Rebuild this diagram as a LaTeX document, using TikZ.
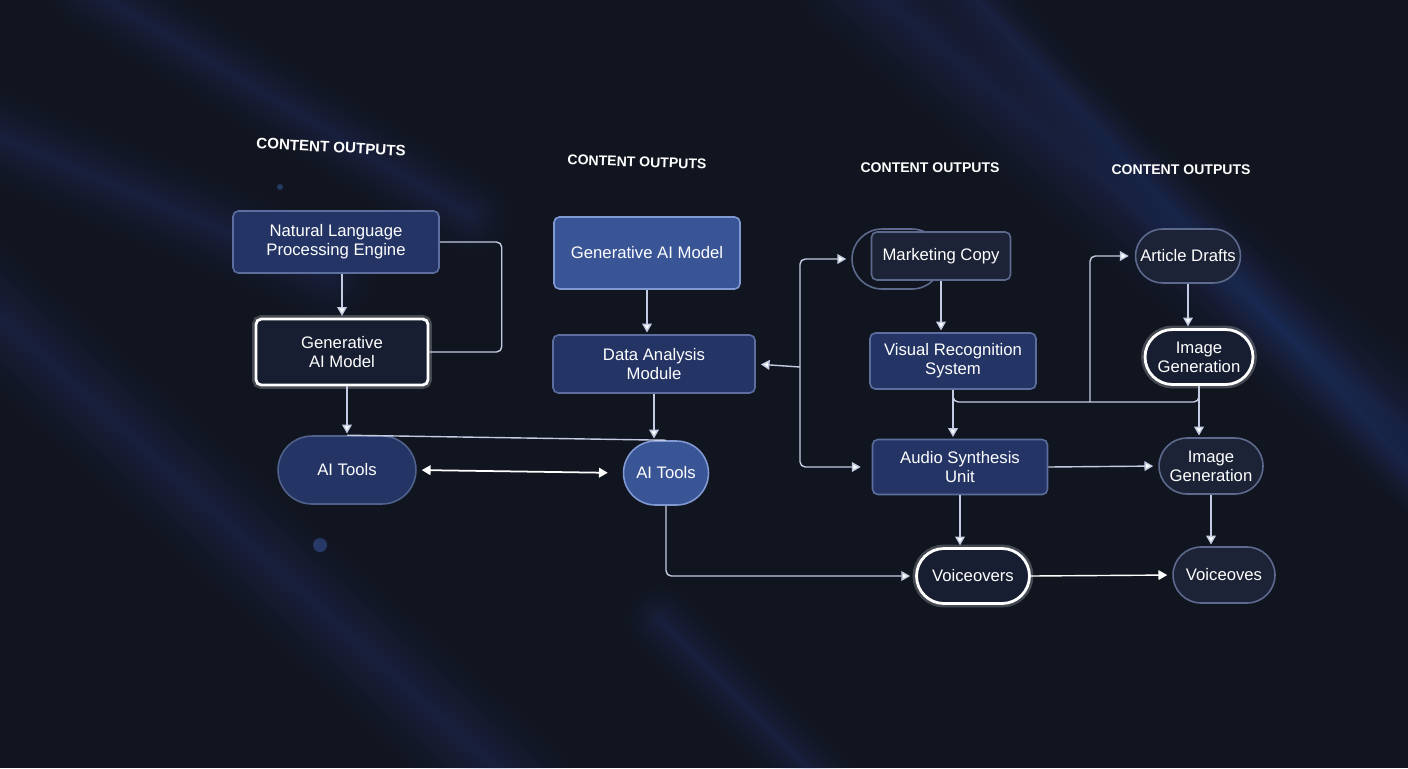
\documentclass[tikz,border=0pt]{standalone}
\usepackage{fontspec}
\setmainfont{Liberation Sans}
\usetikzlibrary{arrows.meta,shapes.misc}
\definecolor{cbg}{HTML}{10151F}
\definecolor{cstreak}{HTML}{4163B8}
\definecolor{cmid}{HTML}{243565}
\definecolor{cmidline}{HTML}{5B6E9E}
\definecolor{clt}{HTML}{3A5595}
\definecolor{cltline}{HTML}{8199D3}
\definecolor{cdim}{HTML}{1C2336}
\definecolor{cdimline}{HTML}{5D6A8E}
\definecolor{cdark}{HTML}{171E31}
\definecolor{clink}{HTML}{C3CCE2}
\tikzset{
  box/.style={draw=cmidline,fill=cmid,line width=0.9pt,text=white,align=center,
    font=\fontsize{9.5}{11}\selectfont,inner sep=2pt},
  rect/.style={box,rounded corners=3pt},
  pill/.style={box,rounded rectangle},
  lt/.style={fill=clt,draw=cltline},
  dim/.style={fill=cdim,draw=cdimline},
  glow/.style={fill=cdark,draw=white,line width=1.6pt,
    preaction={draw=white,opacity=0.22,line width=4.5pt}},
  hd/.style={text=white,font=\fontsize{8}{10}\selectfont\bfseries},
  link/.style={draw=clink,line width=0.8pt},
  arr/.style={link,-{Triangle[length=5pt,width=5.5pt,fill=white]},shorten >=1pt},
  dbl/.style={draw=white,line width=1pt,{Triangle[length=5pt,width=5.5pt]}-{Triangle[length=5pt,width=5.5pt]}}
}
\newcommand{\streak}[3]{\foreach \w in {64,54,45,37,30,24,18,13,8,4}
  \draw[cstreak,line width=\w*#3 pt,opacity=0.022,line cap=round] #1 -- #2;}

\begin{document}
\begin{tikzpicture}[x=0.02cm,y=-0.02cm]
\useasboundingbox (0,0) rectangle (1408,768);
\fill[cbg] (0,0) rectangle (1408,768);
\begin{scope}
\clip (0,0) rectangle (1408,768);
\streak{(90,-10)}{(470,215)}{0.7}
\streak{(-30,125)}{(330,275)}{0.8}
\streak{(-30,290)}{(520,790)}{1}
\streak{(860,-20)}{(1430,450)}{1.1}
\streak{(940,-40)}{(1440,500)}{0.6}
\streak{(660,620)}{(830,790)}{0.6}
\fill[cstreak,opacity=0.45] (320,545) circle (7);
\fill[cstreak,opacity=0.45] (280,187) circle (3);
\end{scope}

\node[hd,rotate=-3,font=\fontsize{8.6}{10}\selectfont\bfseries] (h1) at (331,147) {CONTENT OUTPUTS};
\node[hd,rotate=-2] (h2) at (637,162) {CONTENT OUTPUTS};
\node[hd] (h3) at (930,168) {CONTENT OUTPUTS};
\node[hd] (h4) at (1181,170) {CONTENT OUTPUTS};

\node[rect,minimum width=4.12cm,minimum height=1.24cm] (nlp) at (336,242) {Natural Language\\Processing Engine};
\node[rect,glow,minimum width=3.44cm,minimum height=1.32cm] (gen1) at (342,352) {Generative\\AI Model};
\node[pill,draw=cmidline!85!cbg,minimum width=2.9cm,minimum height=1.36cm] (ait1) at (347,470) {AI Tools};

\node[rect,lt,minimum width=3.72cm,minimum height=1.44cm] (gen2) at (647,253) {Generative AI Model};
\node[rect,minimum width=4.04cm,minimum height=1.16cm] (dam) at (654,364) {Data Analysis\\Module};
\node[pill,lt,minimum width=1.84cm,minimum height=1.28cm] (ait2) at (666,473) {AI Tools};

\node[pill,draw=cdimline,fill=none,line width=0.9pt,minimum width=1.94cm,minimum height=1.2cm] (mcg) at (897,259) {};
\node[rect,dim,minimum width=2.78cm,minimum height=0.96cm] (mc) at (941,256) {Marketing Copy};
\node[rect,minimum width=3.32cm,minimum height=1.12cm] (vrs) at (953,361) {Visual Recognition\\System};
\node[rect,minimum width=3.5cm,minimum height=1.1cm] (asu) at (960,467) {Audio Synthesis\\Unit};
\node[pill,glow,minimum width=2.4cm,minimum height=1.1cm] (vo1) at (973,576) {Voiceovers};

\node[pill,dim,minimum width=2.24cm,minimum height=1.08cm] (art) at (1188,256) {Article Drafts};
\node[pill,glow,minimum width=2.3cm,minimum height=1.1cm] (ig1) at (1199,357) {Image\\Generation};
\node[pill,dim,minimum width=2.22cm,minimum height=1.12cm] (ig2) at (1211,466) {Image\\Generation};
\node[pill,dim,minimum width=2.18cm,minimum height=1.12cm] (vo2) at (1224,575) {Voiceoves};

\coordinate (br) at (800,367);
\coordinate (jn) at (1090,402);

\draw[arr] (nlp.south -| gen1.north) -- (gen1.north);
\draw[link,rounded corners=3pt] (nlp.east) -- ++(62,0) |- (gen1.east);
\draw[arr] (gen1.south -| ait1.north) -- (ait1.north);
\draw[link] (ait1.north) -- (ait2.north);
\draw[dbl,shorten <=0.1cm,shorten >=0.3cm] (ait1.east) -- (ait2.west);

\draw[arr] (gen2.south) -- (gen2.south |- dam.north);
\draw[arr] (dam.south) -- (dam.south |- ait2.north);
\draw[arr,shorten >=0.1cm] (br) -- (dam.east);
\draw[arr,rounded corners=3pt,shorten >=0.1cm] (br) |- (mcg.west);
\draw[arr,rounded corners=3pt,shorten >=0.22cm] (br) |- (asu.west);
\draw[arr,rounded corners=3pt,shorten >=0.1cm] (ait2.south) |- (vo1.west);

\draw[arr] (mc.south) -- (mc.south |- vrs.north);
\draw[arr] (vrs.south) -- (vrs.south |- asu.north);
\draw[link,rounded corners=3pt] (vrs.south) |- (jn) -| (ig1.south);
\draw[arr,rounded corners=3pt,shorten >=0.12cm] (jn) |- (art.west);
\draw[arr] (asu.south) -- (asu.south |- vo1.north);
\draw[arr,shorten >=0.1cm] (asu.east) -- (ig2.west);
\draw[arr,draw=white,shorten >=0.1cm] (vo1.east) -- (vo2.west);

\draw[arr] (art.south) -- (art.south |- ig1.north);
\draw[arr] (ig1.south) -- (ig1.south |- ig2.north);
\draw[arr] (ig2.south) -- (ig2.south |- vo2.north);
\end{tikzpicture}
\end{document}
